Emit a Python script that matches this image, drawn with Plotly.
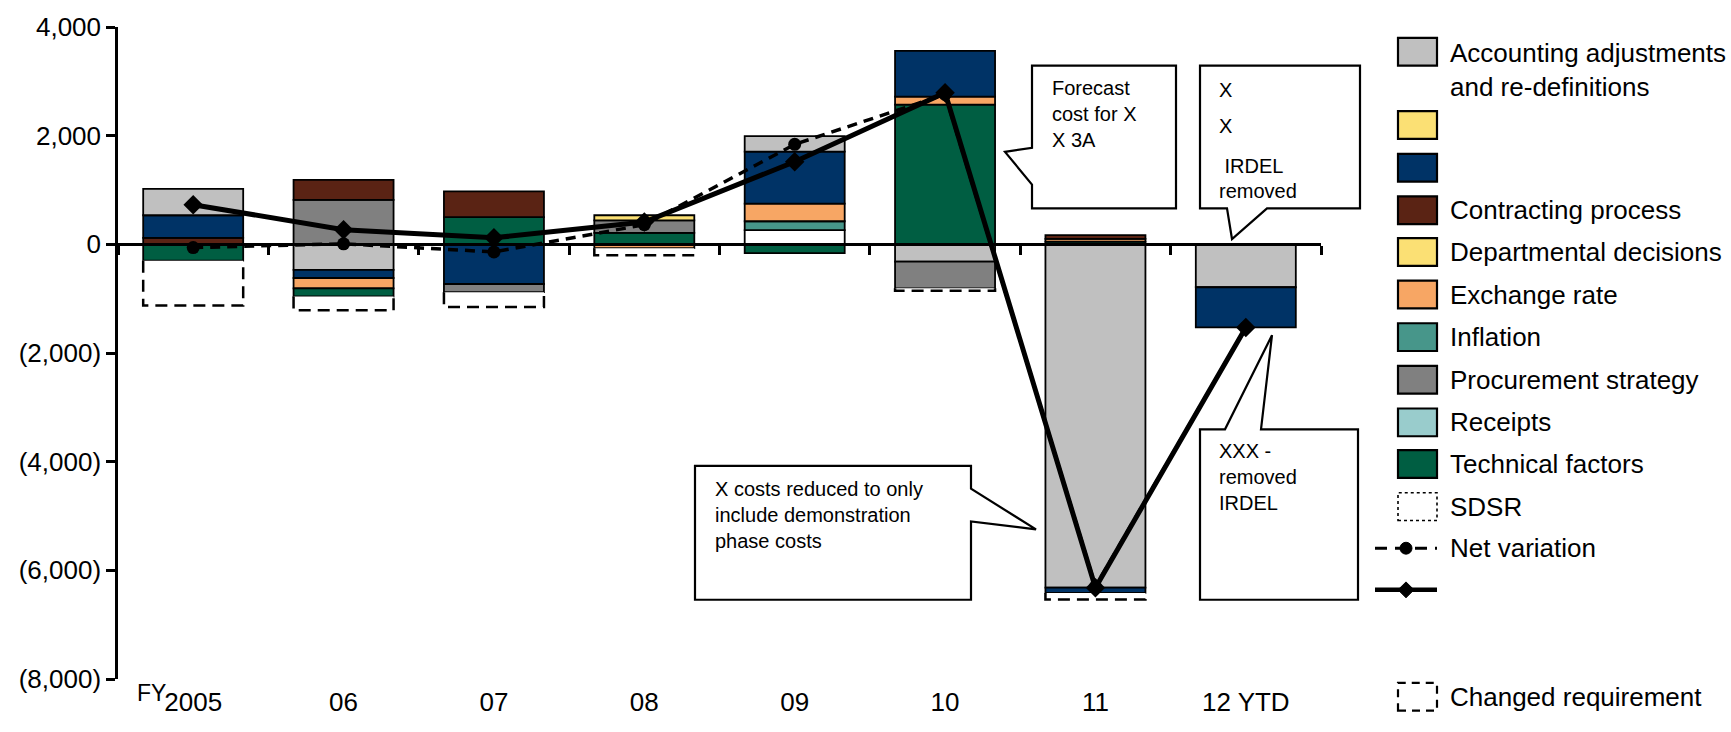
import plotly.graph_objects as go

# ---------------------------------------------------------------- data
categories = ["2005", "06", "07", "08", "09", "10", "11", "12 YTD"]

accounting = [485, -470, 0, 0, 285, -320, -6320, -790]
unnamed_yellow = [0, 0, 0, 0, 0, 0, 0, 0]
unnamed_navy = [415, -150, -730, 0, 955, 840, -95, -740]
contracting = [120, 365, 475, 0, 0, 0, 70, 0]
departmental = [0, 0, 0, 95, 0, 0, 0, 0]
exchange_rate = [0, -190, 0, -70, 325, 150, 50, 0]
inflation = [0, 0, 0, 0, 165, 0, 0, 0]
procurement = [0, 820, -150, 230, 0, -490, 0, 0]
receipts = [0, 0, 0, 0, 0, 0, 0, 0]
technical = [-300, -150, 500, 210, -160, 2570, 50, 0]
sdsr = [0, 0, 0, 0, 260, 0, 0, 0]
changed_requirement = [-825, -255, -275, -130, 0, -45, -120, 0]

net_variation = [-60, 10, -140, 360, 1840, 2760, -6300, -1530]
net_excl_changed = [730, 270, 120, 410, 1520, 2790, -6320, -1530]

y_tick_values = [4000, 2000, 0, -2000, -4000, -6000, -8000]

# ---------------------------------------------------------------- styling
FONT = "Arial, Liberation Sans, sans-serif"
BAR_W = 0.665
EDGE = 1.8
TICK_SIZE = 26
LEGEND_SIZE = 26
NOTE_SIZE = 20

# series in stacking order (first = nearest zero on the positive side)
series = [
    ("Changed requirement", changed_requirement, "#FFFFFF"),
    ("SDSR", sdsr, "#FFFFFF"),
    ("Technical factors", technical, "#005E42"),
    ("Receipts", receipts, "#99CCCC"),
    ("Procurement strategy", procurement, "#808080"),
    ("Inflation", inflation, "#47968A"),
    ("Exchange rate", exchange_rate, "#F7A664"),
    ("Departmental decisions", departmental, "#FBE074"),
    ("", unnamed_yellow, "#FBE074"),
    ("Contracting process", contracting, "#5A2314"),
    ("", unnamed_navy, "#003366"),
    ("Accounting adjustments<br>and re-definitions", accounting, "#C0C0C0"),
]

x = list(range(len(categories)))
fig = go.Figure()


def signed_part(values, sign):
    return [v if v * sign > 0 else None for v in values]


def add_bars(name, values, color, sign):
    edge_w = 0 if name == "Changed requirement" else EDGE
    fig.add_trace(go.Bar(
        x=x, y=signed_part(values, sign), width=BAR_W, name=name,
        marker=dict(color=color, line=dict(color="black", width=edge_w)),
        showlegend=False, hoverinfo="skip",
    ))


# positives stack upward in series order, negatives downward in reverse order
for name, vals, color in series:
    add_bars(name, vals, color, 1)
for name, vals, color in reversed(series):
    add_bars(name, vals, color, -1)

# dashed outline around the changed-requirement blocks
out_x, out_y = [], []
for i in x:
    if changed_requirement[i] < 0:
        top = sum(v[i] for n, v, c in series
                  if n != "Changed requirement" and v[i] < 0)
        bottom = top + changed_requirement[i]
        xl, xr = i - BAR_W / 2, i + BAR_W / 2
        out_x += [xl, xl, xr, xr, None]
        out_y += [top, bottom, bottom, top, None]
fig.add_trace(go.Scatter(
    x=out_x, y=out_y, mode="lines", showlegend=False, hoverinfo="skip",
    line=dict(color="black", width=2.5, dash="12px,7px"),
))

# net variation and the variation excluding changed requirement
fig.add_trace(go.Scatter(
    x=x, y=net_variation, mode="lines+markers", name="Net variation",
    line=dict(color="black", width=3.5, dash="10px,7px"),
    marker=dict(symbol="circle", size=13, color="black"),
    showlegend=False, hoverinfo="skip",
))
fig.add_trace(go.Scatter(
    x=x, y=net_excl_changed, mode="lines+markers", name="",
    line=dict(color="black", width=5),
    marker=dict(symbol="diamond", size=15, color="black"),
    showlegend=False, hoverinfo="skip",
))

# invisible trace that carries the zero-line axis
fig.add_trace(go.Scatter(
    x=[-0.5], y=[0], xaxis="x2", mode="markers",
    marker=dict(opacity=0), showlegend=False, hoverinfo="skip",
))

# ---------------------------------------------------------------- layout helpers
PX_L, PX_R, PX_T, PX_B = 118, 1321, 21, 679
Y_MIN, Y_MAX = -8000, 4000


def px(xp):
    return (xp - PX_L) / (PX_R - PX_L)


def py(yp):
    return (PX_B - yp) / (PX_B - PX_T)


def path(points):
    return "M " + " L ".join(f"{px(a):.5f},{py(b):.5f}" for a, b in points) + " Z"


shapes = []
annotations = []

# callout boxes
callouts = [
    [(1032, 60), (1176, 60), (1176, 204), (1032, 204), (1032, 180), (1005, 147), (1032, 143)],
    [(1200, 60), (1360, 60), (1360, 204), (1267, 204), (1232, 235), (1227, 204), (1200, 204)],
    [(695, 464), (971, 464), (971, 487), (1036, 528), (971, 520), (971, 599), (695, 599)],
    [(1200, 427), (1225, 427), (1272, 332), (1261, 427), (1358, 427), (1358, 599), (1200, 599)],
]
for pts in callouts:
    shapes.append(dict(type="path", xref="paper", yref="paper", path=path(pts),
                       fillcolor="white", line=dict(color="black", width=2.2),
                       layer="above"))

callout_texts = [
    ("Forecast<br>cost for X<br>X 3A", 1051, 70),
    ("X", 1218, 72),
    ("X", 1218, 109),
    (" IRDEL", 1218, 149),
    ("removed", 1218, 174),
    ("X costs reduced to only<br>include demonstration<br>phase costs", 714, 475),
    ("XXX -<br>removed<br>IRDEL", 1218, 437),
]
for txt, xp, yp in callout_texts:
    annotations.append(dict(text=txt, xref="paper", yref="paper", x=px(xp), y=py(yp),
                            xanchor="left", yanchor="top", align="left", showarrow=False,
                            borderpad=0, font=dict(family=FONT, size=NOTE_SIZE, color="black")))

# "FY" prefix beside the first category label
annotations.append(dict(text="FY", xref="paper", yref="paper", x=px(168), y=py(693),
                        xanchor="right", yanchor="middle", showarrow=False,
                        font=dict(family=FONT, size=23, color="black")))

# ---------------------------------------------------------------- legend
legend_rows = [
    ("box", series[11][0], series[11][2], 46, 64),
    ("box", series[8][0], series[8][2], 120, 120),
    ("box", series[10][0], series[10][2], 163, 163),
    ("box", series[9][0], series[9][2], 206, 206),
    ("box", series[7][0], series[7][2], 248, 248),
    ("box", series[6][0], series[6][2], 291, 291),
    ("box", series[5][0], series[5][2], 334, 334),
    ("box", series[4][0], series[4][2], 377, 377),
    ("box", series[3][0], series[3][2], 420, 420),
    ("box", series[2][0], series[2][2], 462, 462),
    ("dotbox", series[1][0], "white", 505, 505),
    ("netline", "Net variation", "black", 547, 547),
    ("diamondline", "", "black", 589, 589),
    ("dashbox", series[0][0], "white", 697, 697),
]
SW_L, SW_R, SW_H = 1398, 1437, 28
for kind, label, color, yc, ytext in legend_rows:
    if kind in ("box", "dotbox", "dashbox"):
        dash = {"box": "solid", "dotbox": "dot", "dashbox": "8px,6px"}[kind]
        lw = 2.2 if kind != "dotbox" else 1.6
        shapes.append(dict(type="rect", xref="paper", yref="paper",
                           x0=px(SW_L), x1=px(SW_R), y0=py(yc + SW_H / 2), y1=py(yc - SW_H / 2),
                           fillcolor=color, line=dict(color="black", width=lw, dash=dash)))
    elif kind == "netline":
        shapes.append(dict(type="line", xref="paper", yref="paper",
                           x0=px(1375), x1=px(1437), y0=py(yc), y1=py(yc),
                           line=dict(color="black", width=3, dash="12px,8px")))
        shapes.append(dict(type="circle", xref="paper", yref="paper",
                           x0=px(1400), x1=px(1412), y0=py(yc + 6), y1=py(yc - 6),
                           fillcolor="black", line=dict(color="black", width=1)))
    else:
        shapes.append(dict(type="line", xref="paper", yref="paper",
                           x0=px(1375), x1=px(1437), y0=py(yc), y1=py(yc),
                           line=dict(color="black", width=4.5)))
        shapes.append(dict(type="path", xref="paper", yref="paper",
                           path=path([(1406, yc - 8), (1414, yc), (1406, yc + 8), (1398, yc)]),
                           fillcolor="black", line=dict(color="black", width=1)))
    if label:
        annotations.append(dict(text=label, xref="paper", yref="paper", x=px(1448), y=py(ytext),
                                xanchor="left", yanchor="middle", align="left", showarrow=False,
                                font=dict(family=FONT, size=LEGEND_SIZE, color="black")))


def paren(v):
    return f"({-v:,})" if v < 0 else f"{v:,}"


fig.update_layout(
    width=1731, height=732, autosize=False,
    margin=dict(l=PX_L, r=1731 - PX_R, t=PX_T, b=732 - PX_B, pad=0),
    paper_bgcolor="white", plot_bgcolor="white",
    barmode="relative", bargap=1 - BAR_W,
    font=dict(family=FONT, size=TICK_SIZE, color="black"),
    showlegend=False,
    xaxis=dict(range=[-0.5, len(categories) - 0.5], tickvals=x, ticktext=categories,
               showline=False, ticks="", showgrid=False, zeroline=False,
               tickfont=dict(family=FONT, size=TICK_SIZE, color="black"), ticklabelstandoff=5),
    xaxis2=dict(range=[-0.5, len(categories) - 0.5], overlaying="x", anchor="free",
                position=(0 - Y_MIN) / (Y_MAX - Y_MIN), side="bottom",
                tickvals=[i - 0.5 for i in x] + [len(categories) - 0.5],
                showticklabels=False, ticks="outside", ticklen=9, tickwidth=2.5,
                tickcolor="black", showline=True, linecolor="black", linewidth=2.5,
                showgrid=False, zeroline=False),
    yaxis=dict(range=[Y_MIN, Y_MAX], tickvals=y_tick_values,
               ticktext=[paren(v) for v in y_tick_values],
               ticks="outside", ticklen=9, tickwidth=2.5, tickcolor="black",
               showline=True, linecolor="black", linewidth=2.5,
               showgrid=False, zeroline=False,
               tickfont=dict(family=FONT, size=TICK_SIZE, color="black")),
    shapes=shapes,
    annotations=annotations,
)

fig.write_html("out.html")
